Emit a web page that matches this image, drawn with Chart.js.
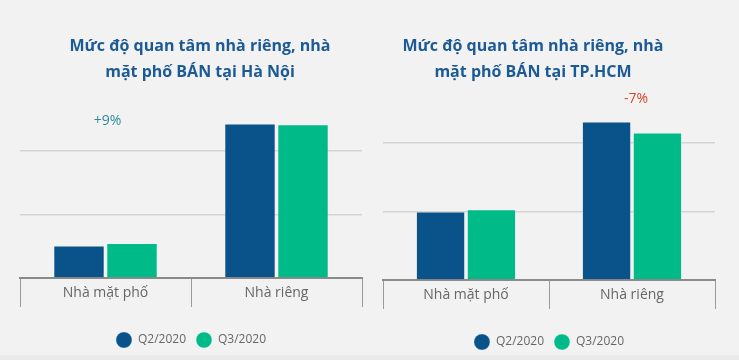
<!DOCTYPE html>
<html>
<head>
<meta charset="utf-8">
<script src="https://cdn.jsdelivr.net/npm/chart.js@4"></script>
<style>
  body { margin: 0; background: #f2f2f2; font-family: "Open Sans", sans-serif; }
  #wrap { position: relative; width: 739px; height: 360px; overflow: hidden; background: #f2f2f2; }
  .title { position: absolute; top: 32px; width: 340px; text-align: center; color: #1b5a95;
           font-weight: bold; font-size: 16px; line-height: 26px; }
  .box { position: absolute; top: 0; height: 360px; }
  #strip { position: absolute; left: 0; top: 355px; width: 739px; height: 5px; background: #eaeaea; }
</style>
</head>
<body>
<div id="wrap">
  <div id="strip"></div>
  <div class="box" style="left:0;width:370px"><canvas id="hnChart"></canvas></div>
  <div class="box" style="left:370px;width:369px"><canvas id="hcmChart"></canvas></div>
  <div class="title" style="left:30px">Mức độ quan tâm nhà riêng, nhà<br>mặt phố BÁN tại Hà Nội</div>
  <div class="title" style="left:363px">Mức độ quan tâm nhà riêng, nhà<br>mặt phố BÁN tại TP.HCM</div>
</div>
<script>
const categories = ['Nhà mặt phố', 'Nhà riêng'];
const seriesNames = ['Q2/2020', 'Q3/2020'];

const hnQ2 = [5.1, 24.3];
const hnQ3 = [5.5, 24.2];
const hcmQ2 = [10.0, 23.1];
const hcmQ3 = [10.3, 21.5];

const hnNote = ['+9%', ''];
const hcmNote = ['', '-7%'];

const blue = '#0a528a';
const green = '#00bb88';

// % change text over a category, and the category names inside the tick boxes
const notePlugin = {
    id: 'notes',
    afterDatasetsDraw(chart, args, opts) {
        const ctx = chart.ctx;
        const x = chart.scales.x;
        const y = chart.scales.y;
        ctx.save();
        ctx.textAlign = 'center';
        ctx.textBaseline = 'middle';
        ctx.font = '14px "Open Sans"';
        ctx.fillStyle = opts.color;
        opts.texts.forEach((t, i) => {
            if (t) ctx.fillText(t, x.getPixelForValue(i) + opts.dx, y.getPixelForValue(opts.at));
        });
        ctx.fillStyle = '#666';
        chart.data.labels.forEach((lab, i) => {
            ctx.fillText(lab, x.getPixelForValue(i), x.top + 15);
        });
        ctx.restore();
    }
};

function makeChart(id, q2, q3, notes, noteColor, noteAt, noteDx, pad, catPct) {
    return new Chart(document.getElementById(id), {
        type: 'bar',
        data: {
            labels: categories,
            datasets: [{
                label: seriesNames[0],
                data: q2,
                backgroundColor: blue,
                borderColor: 'rgba(255,255,255,0.25)',
                borderWidth: 1
            }, {
                label: seriesNames[1],
                data: q3,
                backgroundColor: green,
                borderColor: 'rgba(255,255,255,0.35)',
                borderWidth: 1
            }]
        },
        options: {
            responsive: true,
            maintainAspectRatio: false,
            animation: false,
            categoryPercentage: catPct,
            barPercentage: 0.97,
            layout: { padding: pad },
            plugins: {
                legend: {
                    position: 'bottom',
                    labels: {
                        color: '#666',
                        font: { family: 'Open Sans', size: 12 },
                        boxWidth: 16,
                        boxHeight: 16,
                        useBorderRadius: true,
                        borderRadius: 8,
                        padding: 10
                    }
                },
                tooltip: { enabled: false },
                notes: { texts: notes, color: noteColor, at: noteAt, dx: noteDx }
            },
            scales: {
                x: {
                    grid: {
                        drawOnChartArea: false,
                        drawTicks: true,
                        tickLength: 29,
                        color: '#9a9a9a',
                        lineWidth: 1
                    },
                    border: { display: true, color: '#8a8a8a', width: 2 },
                    ticks: { display: false },
                    afterFit: s => { s.height += 15; }
                },
                y: {
                    min: 0,
                    max: 28,
                    ticks: { display: false, stepSize: 10, includeBounds: false },
                    grid: {
                        drawTicks: false,
                        color: c => c.tick.value === 0 ? 'rgba(0,0,0,0)' : '#d4d4d4',
                        lineWidth: 1.5
                    },
                    border: { display: false }
                }
            }
        },
        plugins: [notePlugin]
    });
}

makeChart('hnChart', hnQ2, hnQ3, hnNote, '#2b8a9c', 24.75, 2,
    { left: 20, right: 8, top: 100, bottom: 2 }, 0.62);
makeChart('hcmChart', hcmQ2, hcmQ3, hcmNote, '#d9462a', 26.4, 4,
    { left: 13, right: 24, top: 88, bottom: 0 }, 0.613);
</script>
</body>
</html>
